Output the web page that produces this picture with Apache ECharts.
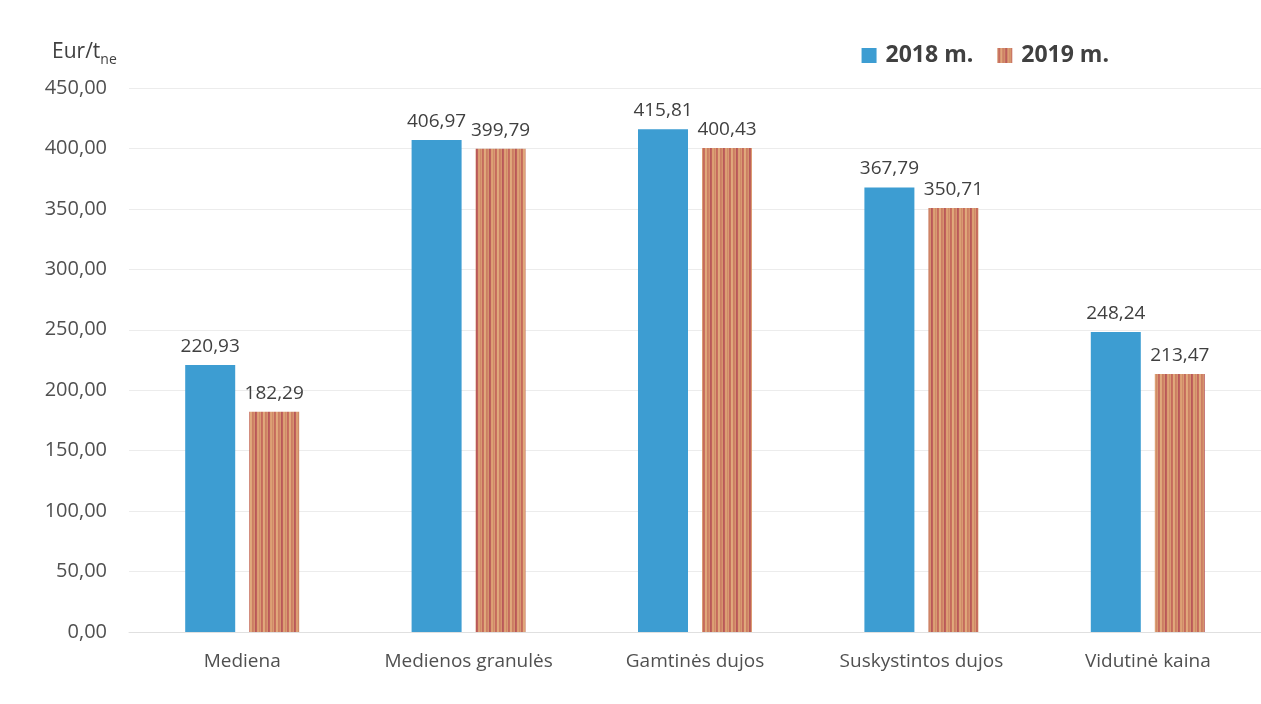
<!DOCTYPE html>
<html><head><meta charset="utf-8">
<script src="https://cdn.jsdelivr.net/npm/echarts@6/dist/echarts.min.js"></script>
<style>html,body{margin:0;padding:0;background:#fff}#c{width:1261px;height:704px}</style>
</head><body><div id="c"></div>
<script>
const categories = ['Mediena','Medienos granulės','Gamtinės dujos','Suskystintos dujos','Vidutinė kaina'];
const values2018 = [220.93, 406.97, 415.81, 367.79, 248.24];
const values2019 = [182.29, 399.79, 400.43, 350.71, 213.47];
const seriesNames = ['2018 m.', '2019 m.'];

function stripes(){
  const c = document.createElement('canvas');
  c.width = 26; c.height = 8;
  const g = c.getContext('2d');
  const cols = ['#d99a72','#c8715e','#dfa67a','#cf8466','#b9585a','#dc9c73','#d08a68','#c56a5e','#e0a97c','#cc7d63','#d6946e','#bf625b','#dba174'];
  g.fillStyle = '#d48f6c'; g.fillRect(0,0,26,8);
  for (let i=0;i<26;i++){ g.fillStyle = cols[(i*7)%cols.length]; g.fillRect(i,0,1,8); }
  return c;
}
const fmt = v => v.toFixed(2).replace('.', ',');
const chart = echarts.init(document.getElementById('c'));
const lbl = {show:true, position:'top', distance:9, color:'#404040', fontSize:19, fontFamily:'Open Sans', formatter: p => fmt(p.value)};
chart.setOption({
  animation:false,
  textStyle:{fontFamily:'Open Sans'},
  title:{text:'{a|Eur/t}{b|ne}', left:47, top:33, textStyle:{fontWeight:'normal', rich:{a:{fontSize:21,color:'#404040',fontWeight:'normal',fontFamily:'Open Sans'}, b:{fontSize:14,color:'#404040',fontWeight:'normal',padding:[15,0,0,0],fontFamily:'Open Sans'}}}},
  legend:{data:seriesNames, right:147, top:39, icon:'rect', itemWidth:15, itemHeight:15, itemGap:24, textStyle:{fontSize:23, fontWeight:'bold', color:'#404040', fontFamily:'Open Sans', padding:[0,0,0,4]}},
  grid:{left:129, right:0, top:88, bottom:72},
  xAxis:{type:'category', data:categories, axisTick:{show:false}, axisLine:{lineStyle:{color:'#e0e0e0'}}, axisLabel:{interval:0, fontSize:19, color:'#505050', margin:20}},
  yAxis:{type:'value', min:0, max:450, interval:50, axisLabel:{fontSize:20, color:'#505050', margin:22, formatter: v => fmt(v)}, splitLine:{lineStyle:{color:'#ececec'}}},
  series:[
    {name:seriesNames[0], type:'bar', data:values2018, barWidth:50, barGap:'28%', itemStyle:{color:'#3d9dd2'}, label:lbl},
    {name:seriesNames[1], type:'bar', data:values2019, barWidth:50, itemStyle:{color:{image:stripes(), repeat:'repeat'}}, label:lbl}
  ]
});
</script></body></html>
